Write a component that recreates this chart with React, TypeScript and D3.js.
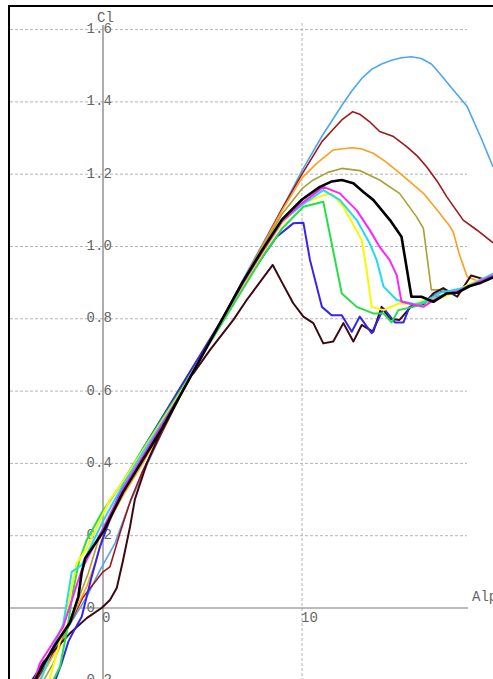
import React from "react";
import * as d3 from "d3";

type Pt = [number, number];

// ---- data (alpha, Cl) ----
const lightBlue: Pt[] = [[-4.3,-0.25],[-2.83,-0.144],[-1.82,-0.06],[-0.82,0.031],[-0.15,0.105],[0.6,0.179],[1.27,0.28],[1.86,0.354],[3,0.49],[4,0.6],[5,0.7],[6,0.8],[7,0.905],[8,1.005],[9,1.105],[10,1.21],[11,1.305],[12,1.39],[12.5,1.43],[13,1.465],[13.5,1.49],[14,1.505],[14.5,1.515],[15,1.522],[15.5,1.525],[16,1.52],[16.5,1.505],[16.9,1.48],[17.5,1.44],[18.3,1.387],[19,1.30],[19.6,1.22]];
const darkRed: Pt[] = [[-4,-0.26],[-3,-0.17],[-2,-0.08],[-1,0.03],[0,0.1],[0.35,0.114],[0.85,0.207],[1.4,0.3],[2,0.38],[3,0.49],[4,0.6],[5,0.7],[6,0.8],[7,0.9],[8,1.0],[9,1.105],[10,1.2],[11,1.29],[11.5,1.32],[12,1.35],[12.55,1.373],[12.9,1.366],[13.4,1.345],[13.9,1.318],[14.6,1.304],[15.26,1.276],[15.8,1.25],[16.27,1.22],[16.8,1.18],[17.27,1.138],[18.1,1.073],[18.8,1.045],[19.6,1.01]];
const orange: Pt[] = [[-3.8,-0.26],[-2.5,-0.13],[-1.5,-0.02],[-0.82,0.059],[-0.4,0.124],[-0.05,0.19],[0.5,0.26],[1,0.31],[2,0.4],[3,0.5],[4,0.6],[5,0.7],[6,0.8],[7,0.9],[8,1.0],[9,1.1],[10,1.19],[10.74,1.23],[11.57,1.267],[12.5,1.273],[13.0,1.27],[13.58,1.258],[14.2,1.235],[14.76,1.21],[15.4,1.18],[16.1,1.147],[16.8,1.10],[17.44,1.055],[17.6,1.04],[17.9,0.98],[18.3,0.916],[18.8,0.905],[19.2,0.912],[19.6,0.925]];
const olive: Pt[] = [[-3.6,-0.26],[-2.5,-0.153],[-1.32,0.013],[-0.74,0.096],[-0.23,0.188],[0.5,0.27],[1,0.32],[2,0.41],[3,0.5],[4,0.6],[5,0.7],[6,0.8],[7,0.9],[8,0.995],[9,1.09],[10,1.16],[10.57,1.184],[11.3,1.205],[12.0,1.216],[12.9,1.21],[13.9,1.184],[14.9,1.147],[15.76,1.082],[16.1,1.05],[16.5,0.88],[17.1,0.88],[17.6,0.872],[18.2,0.89],[18.8,0.9],[19.6,0.918]];
const black: Pt[] = [[-3.8,-0.25],[-3.33,-0.19],[-2.5,-0.11],[-1.66,-0.04],[-1.24,0.031],[-1.07,0.097],[-0.9,0.137],[0,0.21],[1,0.32],[2,0.41],[3,0.5],[4,0.6],[5,0.7],[6,0.8],[7,0.9],[8,0.99],[9,1.075],[10,1.13],[10.9,1.165],[11.5,1.18],[12.0,1.184],[12.58,1.175],[13.1,1.15],[13.58,1.129],[14.42,1.073],[15.0,1.027],[15.5,0.861],[16.0,0.861],[16.6,0.847],[17.27,0.87],[17.8,0.872],[18.4,0.89],[19,0.9],[19.6,0.915]];
const magenta: Pt[] = [[-3.7,-0.24],[-3.17,-0.153],[-2.0,-0.052],[-1.4,0.05],[-1.07,0.105],[-0.82,0.133],[0,0.22],[1,0.33],[2,0.42],[3,0.51],[4,0.6],[5,0.7],[6,0.8],[7,0.895],[8,0.985],[9,1.07],[10,1.12],[11.07,1.165],[11.9,1.147],[12.75,1.10],[13.4,1.046],[13.9,0.999],[14.4,0.963],[14.76,0.921],[15.0,0.847],[16.1,0.833],[16.7,0.855],[17.3,0.87],[17.9,0.878],[18.5,0.893],[19,0.905],[19.6,0.92]];
const cyan: Pt[] = [[-3.4,-0.24],[-2.6,-0.12],[-2.0,-0.045],[-1.57,0.10],[-1.07,0.119],[0,0.24],[1,0.34],[2,0.43],[3,0.515],[4,0.6],[5,0.7],[6,0.8],[7,0.895],[8,0.985],[9,1.07],[10,1.115],[11.07,1.156],[11.9,1.129],[12.75,1.073],[13.4,1.009],[13.75,0.963],[14.1,0.889],[14.76,0.852],[15.7,0.84],[16.3,0.85],[16.9,0.872],[17.5,0.878],[18.1,0.885],[18.7,0.9],[19.6,0.925]];
const yellow: Pt[] = [[-3.2,-0.25],[-2.7,-0.2],[-2.0,-0.06],[-1.6,0.05],[-1.32,0.124],[-0.82,0.165],[0.35,0.3],[1,0.35],[2,0.435],[3,0.52],[4,0.605],[5,0.7],[6,0.8],[7,0.89],[8,0.98],[9,1.065],[10.05,1.12],[11.0,1.14],[11.49,1.147],[12.08,1.11],[13.0,1.018],[13.25,0.935],[13.5,0.833],[14.1,0.824],[14.9,0.843],[15.6,0.84],[16.3,0.855],[17,0.858],[17.6,0.872],[18.2,0.89],[18.8,0.905],[19.6,0.92]];
const green: Pt[] = [[-2.9,-0.26],[-2.5,-0.2],[-2.16,-0.162],[-1.8,-0.06],[-1.49,0.05],[-1.2,0.13],[-0.82,0.188],[-0.07,0.263],[1,0.35],[2,0.44],[3,0.525],[4,0.61],[5,0.7],[6,0.79],[7,0.88],[8,0.97],[9,1.05],[10.07,1.11],[11.07,1.124],[11.49,1.009],[12.0,0.87],[12.75,0.833],[13.58,0.815],[14.1,0.815],[14.5,0.79],[14.84,0.824],[15.6,0.833],[16.2,0.845],[16.8,0.862],[17.4,0.87],[18,0.878],[18.6,0.893],[19.6,0.918]];
const blue: Pt[] = [[-2.7,-0.25],[-2.33,-0.19],[-2.08,-0.153],[-1.74,-0.093],[-1.49,-0.066],[-1.07,-0.024],[-0.6,0.08],[-0.15,0.17],[0.5,0.27],[1,0.34],[2,0.44],[3,0.53],[4,0.62],[5,0.71],[6,0.8],[7,0.885],[8,0.97],[8.73,1.027],[9.56,1.064],[10.07,1.066],[10.4,0.963],[11.0,0.833],[11.49,0.81],[12.0,0.81],[12.5,0.764],[12.9,0.806],[13.5,0.76],[14.1,0.829],[14.67,0.79],[15.1,0.79],[15.4,0.833],[16,0.845],[16.5,0.86],[17,0.875],[17.6,0.868],[18.2,0.885],[18.8,0.9],[19.6,0.915]];
const maroon: Pt[] = [[-4.2,-0.26],[-3,-0.15],[-1.66,-0.07],[-0.82,-0.028],[-0.07,0.0],[0.35,0.022],[0.69,0.055],[1.0,0.13],[1.36,0.225],[1.6,0.3],[2.2,0.4],[3,0.5],[4.2,0.63],[4.54,0.649],[5.38,0.714],[6.55,0.797],[7.22,0.852],[8.53,0.949],[9.0,0.90],[9.56,0.843],[10.07,0.806],[10.57,0.788],[11.07,0.732],[11.57,0.737],[12.08,0.788],[12.58,0.737],[13.0,0.783],[13.58,0.764],[14.0,0.833],[14.4,0.80],[14.9,0.797],[15.5,0.835],[16.1,0.84],[16.6,0.87],[17.1,0.885],[17.8,0.861],[18.5,0.92],[19.3,0.907],[19.6,0.915]];

const yTicks = [-0.2, 0, 0.2, 0.4, 0.6, 0.8, 1.0, 1.2, 1.4, 1.6];
const yTickLabels = ["-0.2", "0", "0.2", "0.4", "0.6", "0.8", "1.0", "1.2", "1.4", "1.6"];
const xTicks = [0, 10];
const xTickLabels = ["0", "10"];
const xGrid = [10];

const series: { name: string; data: Pt[]; color: string; w: number }[] = [
  { name: "lightBlue", data: lightBlue, color: "#4ea6f2", w: 1.6 },
  { name: "darkRed", data: darkRed, color: "#a01818", w: 1.6 },
  { name: "orange", data: orange, color: "#ff9e1e", w: 1.6 },
  { name: "olive", data: olive, color: "#a8a032", w: 1.6 },
  { name: "maroon", data: maroon, color: "#3a0a12", w: 2 },
  { name: "blue", data: blue, color: "#3424ee", w: 2 },
  { name: "green", data: green, color: "#26de46", w: 2 },
  { name: "yellow", data: yellow, color: "#f8f800", w: 2 },
  { name: "cyan", data: cyan, color: "#22dcec", w: 2 },
  { name: "magenta", data: magenta, color: "#ff24ff", w: 2 },
  { name: "black", data: black, color: "#000000", w: 2.6 },
];

export default function App() {
  const W = 493, H = 679;
  const x = d3.scaleLinear().domain([0, 10]).range([103, 302]);
  const y = d3.scaleLinear().domain([0, 1.6]).range([608, 29.6]);
  const line = d3.line<Pt>().x(d => x(d[0])).y(d => y(d[1]));
  const font = "'Liberation Mono', 'Courier New', monospace";
  const gridRight = 467;
  return (
    <svg width={W} height={H} style={{ position: "absolute", left: 0, top: 0, background: "#fff" }}>
      <rect x={0} y={0} width={W} height={H} fill="#fff" />
      {/* grid */}
      {yTicks.filter(v => v !== 0).map(v => (
        <line key={"gy" + v} x1={10} x2={gridRight} y1={y(v)} y2={y(v)} stroke="#b4b4b4" strokeWidth={1} strokeDasharray="3,2" />
      ))}
      {xGrid.map(v => (
        <line key={"gx" + v} x1={x(v)} x2={x(v)} y1={23} y2={H} stroke="#b4b4b4" strokeWidth={1} strokeDasharray="3,2" />
      ))}
      {/* axes */}
      <line x1={10} x2={468} y1={y(0)} y2={y(0)} stroke="#787878" strokeWidth={1.2} />
      <line x1={x(0)} x2={x(0)} y1={25} y2={H} stroke="#787878" strokeWidth={1.2} />
      {/* labels */}
      {yTicks.map((v, i) => {
        const lab = yTickLabels[i];
        const intLen = lab.includes(".") ? lab.indexOf(".") : lab.length;
        return (
          <text key={"ty" + v} x={95 - 8.4 * intLen} y={y(v) + 3.5} fontFamily={font} fontSize={14} fill="#666">{lab}</text>
        );
      })}
      {xTicks.map((v, i) => (
        <text key={"tx" + v} x={x(v) - 1} y={622} fontFamily={font} fontSize={14} fill="#666">{xTickLabels[i]}</text>
      ))}
      <text x={97} y={22} fontFamily={font} fontSize={14} fill="#666">Cl</text>
      <text x={472} y={601} fontFamily={font} fontSize={14} fill="#666">Alpha</text>
      {/* curves */}
      {series.map(s => (
        <path key={s.name} d={line(s.data) || ""} fill="none" stroke={s.color} strokeWidth={s.w} strokeLinejoin="round" />
      ))}
      {/* frame */}
      <rect x={9} y={6} width={700} height={900} fill="none" stroke="#000" strokeWidth={2} />
    </svg>
  );
}
